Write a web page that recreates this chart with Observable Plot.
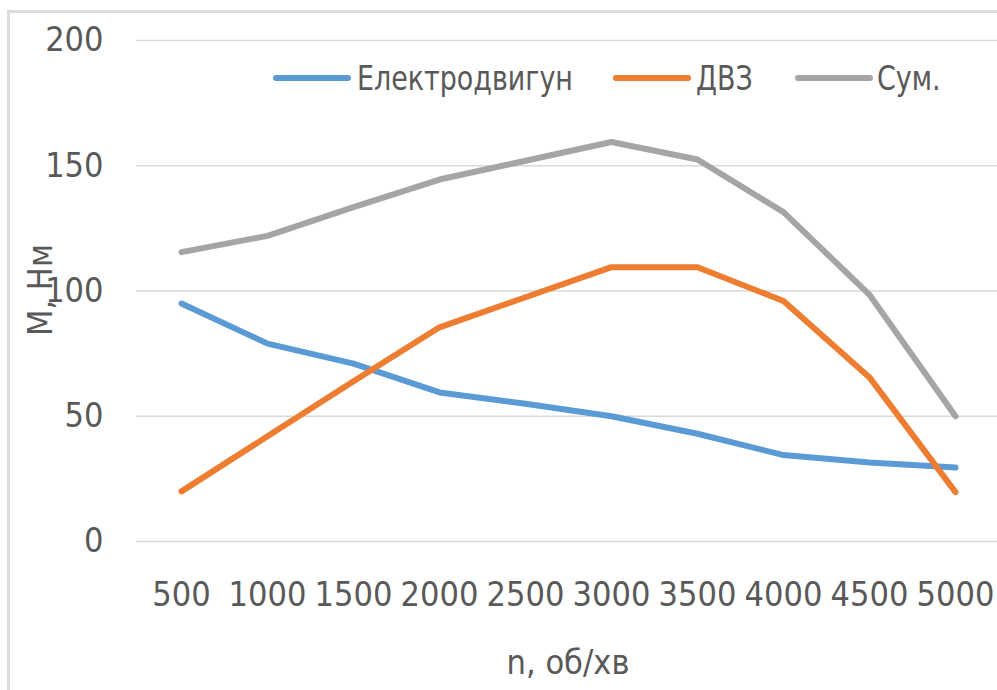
<!DOCTYPE html>
<html>
<head>
<meta charset="utf-8">
<script src="https://cdn.jsdelivr.net/npm/d3@7"></script>
<script src="https://cdn.jsdelivr.net/npm/@observablehq/plot@0.6"></script>
<style>
  html, body { margin: 0; padding: 0; background: #fff; }
  #wrap { position: relative; width: 997px; height: 690px; overflow: hidden; background: #fff; }
  #frame { position: absolute; left: 7px; top: 10px; width: 1000px; height: 700px;
           border-left: 3px solid #dcdcdc; border-top: 3px solid #dcdcdc; }
  .txt { position: absolute; font-family: "Liberation Sans Narrow", "DejaVu Sans Condensed", sans-serif;
         color: #595959; font-size: 34px; white-space: nowrap; line-height: 1; }
  .leg { transform: scaleX(0.88); transform-origin: 0 50%; }
  .sw { position: absolute; height: 6px; border-radius: 3px; }
  #chart { position: absolute; left: 0; top: 0; }
</style>
</head>
<body>
<div id="wrap">
  <div id="frame"></div>
  <div id="chart"></div>
</div>
<script>
const rpm = ["500","1000","1500","2000","2500","3000","3500","4000","4500","5000"];
const electro = [95, 79, 71, 59.5, 55, 50, 43, 34.5, 31.5, 29.5];
const ice = [20, 42, 64, 85.5, 97.5, 109.5, 109.5, 96, 65.5, 19.7];
const total = [115.5, 122, 133.5, 144.5, 152, 159.5, 152.5, 131.5, 98.5, 50];
const seriesNames = ["Електродвигун", "ДВЗ", "Сум."];
const seriesColors = ["#5b9bd5", "#ed7d31", "#a5a5a5"];
const yTicks = [0, 50, 100, 150, 200];
const xLabel = "n, об/хв";
const yLabel = "М, Нм";

const allSeries = [electro, ice, total];
const data = [];
allSeries.forEach((vals, s) => vals.forEach((v, i) => data.push({rpm: rpm[i], value: v, series: seriesNames[s]})));

const font = '"Liberation Sans Narrow", "DejaVu Sans Condensed", sans-serif';

const chart = Plot.plot({
  width: 997,
  height: 690,
  marginLeft: 136,
  marginRight: 0,
  marginTop: 40,
  marginBottom: 149,
  style: {fontFamily: font, fontSize: "34px", color: "#595959", background: "transparent"},
  x: {type: "point", domain: rpm, range: [179, 957], padding: 0},
  y: {domain: [0, 200]},
  color: {domain: seriesNames, range: seriesColors},
  marks: [
    Plot.ruleY(yTicks, {stroke: "#d9d9d9", strokeWidth: 1.5}),
    Plot.axisY({ticks: yTicks, tickSize: 0, tickPadding: 33, label: null, fontSize: 34, fill: "#595959"}),
    Plot.axisX({tickSize: 0, tickPadding: 40, label: null, fontSize: 34, fill: "#595959"}),
    Plot.line(data, {x: "rpm", y: "value", z: "series", stroke: "series", strokeWidth: 6, strokeLinecap: "round", strokeLinejoin: "round"})
  ]
});
document.getElementById("chart").appendChild(chart);

// legend and axis titles (HTML)
const wrap = document.getElementById("wrap");
const legendPos = [
  {sw: 273, tx: 357},
  {sw: 613, tx: 696},
  {sw: 795, tx: 877}
];
seriesNames.forEach((name, i) => {
  const sw = document.createElement("div");
  sw.className = "sw";
  sw.style.left = legendPos[i].sw + "px";
  sw.style.top = "75px";
  sw.style.width = "78px";
  sw.style.background = seriesColors[i];
  wrap.appendChild(sw);
  const t = document.createElement("div");
  t.className = "txt leg";
  t.style.left = legendPos[i].tx + "px";
  t.style.top = "61px";
  t.textContent = name;
  wrap.appendChild(t);
});
const xl = document.createElement("div");
xl.className = "txt";
xl.textContent = xLabel;
xl.style.left = "568px";
xl.style.top = "645px";
xl.style.transform = "translateX(-50%)";
wrap.appendChild(xl);
const yl = document.createElement("div");
yl.className = "txt";
yl.textContent = yLabel;
yl.style.left = "40px";
yl.style.top = "290px";
yl.style.transform = "translate(-50%, -50%) rotate(-90deg)";
wrap.appendChild(yl);
</script>
</body>
</html>
